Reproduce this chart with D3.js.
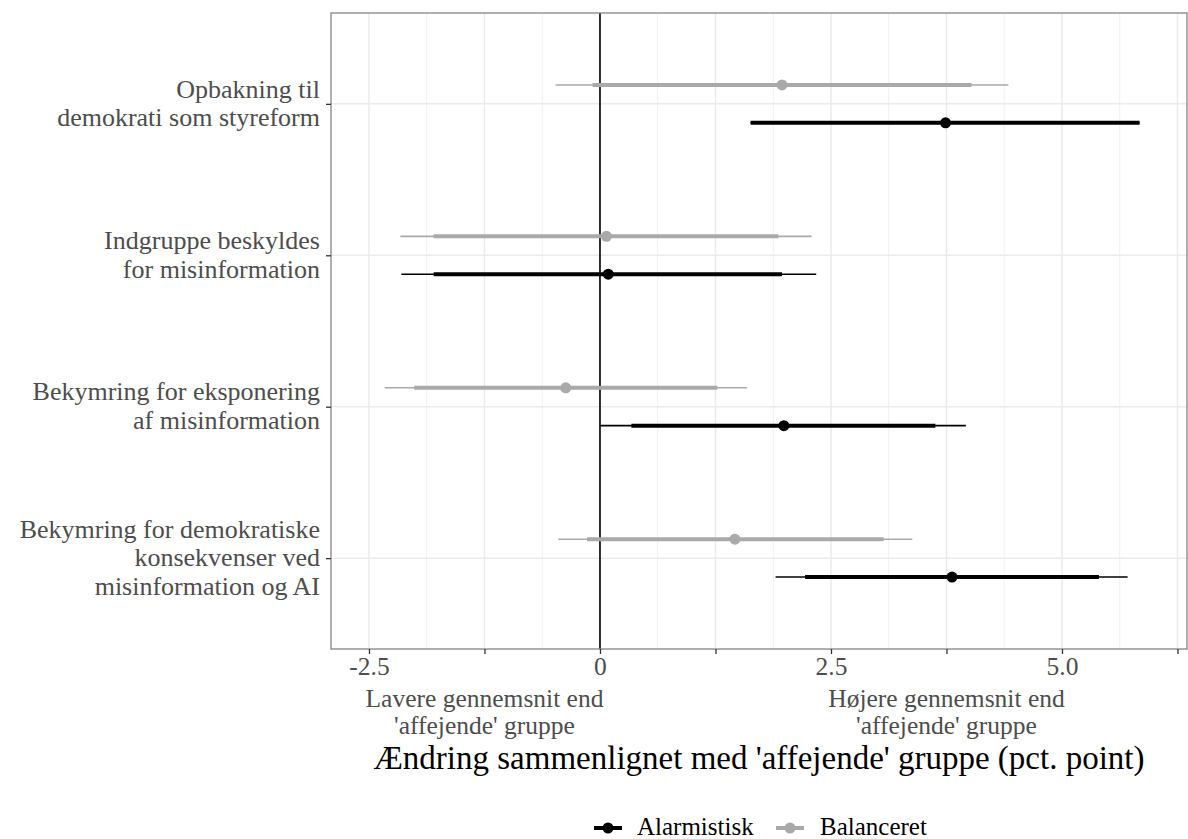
<!DOCTYPE html>
<html>
<head>
<meta charset="utf-8">
<script src="https://d3js.org/d3.v7.min.js"></script>
<style>
  body { margin: 0; background: #fff; }
  text { font-family: "Liberation Serif", "Times New Roman", serif; }
</style>
</head>
<body>
<script>
// categories, top to bottom
var categories = [
  ["Opbakning til", "demokrati som styreform"],
  ["Indgruppe beskyldes", "for misinformation"],
  ["Bekymring for eksponering", "af misinformation"],
  ["Bekymring for demokratiske", "konsekvenser ved", "misinformation og AI"]
];
var series = ["Balanceret", "Alarmistisk"];
var seriesColors = ["#a9a9a9", "#000000"];

// estimates and intervals, one value per category
var balEst = [1.97, 0.07, -0.37, 1.46];
var balLo95 = [-0.48, -2.16, -2.33, -0.45];
var balHi95 = [4.42, 2.29, 1.59, 3.38];
var balLo90 = [-0.08, -1.80, -2.01, -0.14];
var balHi90 = [4.02, 1.93, 1.27, 3.07];

var alaEst = [3.74, 0.09, 1.99, 3.81];
var alaLo95 = [1.63, -2.15, 0.00, 1.90];
var alaHi95 = [5.84, 2.34, 3.96, 5.71];
var alaLo90 = [1.63, -1.80, 0.34, 2.22];
var alaHi90 = [5.84, 1.97, 3.63, 5.40];

var tickValues = [-2.5, -1.25, 0, 1.25, 2.5, 3.75, 5, 6.25];
var tickLabels = ["-2.5", "", "0", "", "2.5", "", "5.0", ""];
var noteTicks = [-1.25, 3.75];
var noteLabels = [
  ["Lavere gennemsnit end", "'affejende' gruppe"],
  ["Højere gennemsnit end", "'affejende' gruppe"]
];

var rows = [];
categories.forEach(function(c, i) {
  rows.push({cat: i, s: 0, est: balEst[i], lo95: balLo95[i], hi95: balHi95[i], lo90: balLo90[i], hi90: balHi90[i]});
  rows.push({cat: i, s: 1, est: alaEst[i], lo95: alaLo95[i], hi95: alaHi95[i], lo90: alaLo90[i], hi90: alaHi90[i]});
});

var width = 1188, height = 839;
var pLeft = 331, pRight = 1187, pTop = 13, pBottom = 649;

var svg = d3.select("body").append("svg")
  .attr("width", width).attr("height", height);

var x = d3.scaleLinear().domain([-2.911, 6.353]).range([pLeft, pRight]);
var y = d3.scalePoint().domain(d3.range(categories.length)).range([pTop, pBottom]).padding(0.6);
var dodge = y.step() * 0.125;
function yy(d) { return y(d.cat) + (d.s === 0 ? -dodge : dodge); }

// grid
var minor = d3.range(-2.5, 6.4, 0.625).filter(function(v) { return tickValues.indexOf(v) < 0; });
svg.append("g").selectAll("line").data(minor).enter().append("line")
  .attr("x1", x).attr("x2", x).attr("y1", pTop).attr("y2", pBottom)
  .attr("stroke", "#f0f0f0").attr("stroke-width", 1);
svg.append("g").selectAll("line").data(tickValues).enter().append("line")
  .attr("x1", x).attr("x2", x).attr("y1", pTop).attr("y2", pBottom)
  .attr("stroke", "#ebebeb").attr("stroke-width", 1.5);
svg.append("g").selectAll("line").data(d3.range(categories.length)).enter().append("line")
  .attr("x1", pLeft).attr("x2", pRight).attr("y1", y).attr("y2", y)
  .attr("stroke", "#ebebeb").attr("stroke-width", 1.5);

// zero line
svg.append("line")
  .attr("x1", x(0)).attr("x2", x(0)).attr("y1", pTop).attr("y2", pBottom)
  .attr("stroke", "#000").attr("stroke-width", 1.6);

// intervals
var g = svg.append("g");
g.selectAll(".thin").data(rows).enter().append("line")
  .attr("x1", function(d) { return x(d.lo95); })
  .attr("x2", function(d) { return x(d.hi95); })
  .attr("y1", yy).attr("y2", yy)
  .attr("stroke", function(d) { return seriesColors[d.s]; })
  .attr("stroke-width", 1.6);
g.selectAll(".thick").data(rows).enter().append("line")
  .attr("x1", function(d) { return x(d.lo90); })
  .attr("x2", function(d) { return x(d.hi90); })
  .attr("y1", yy).attr("y2", yy)
  .attr("stroke", function(d) { return seriesColors[d.s]; })
  .attr("stroke-width", 4);
g.selectAll("circle").data(rows).enter().append("circle")
  .attr("cx", function(d) { return x(d.est); })
  .attr("cy", yy).attr("r", 5.5)
  .attr("fill", function(d) { return seriesColors[d.s]; });

// panel border
svg.append("rect")
  .attr("x", pLeft).attr("y", pTop).attr("width", pRight - pLeft).attr("height", pBottom - pTop)
  .attr("fill", "none").attr("stroke", "#858585").attr("stroke-width", 1.3);

// x axis
var xAxis = d3.axisBottom(x).tickValues(tickValues)
  .tickFormat(function(d, i) { return tickLabels[i]; })
  .tickSize(5).tickPadding(3);
var ax = svg.append("g").attr("transform", "translate(0," + pBottom + ")").call(xAxis);
ax.select(".domain").remove();
ax.selectAll(".tick line").attr("stroke", "#333").attr("stroke-width", 1.3);
ax.selectAll(".tick text").attr("fill", "#4d4d4d").attr("font-size", 25.5)
  .attr("font-family", "Liberation Serif, serif");

noteTicks.forEach(function(v, i) {
  var t = svg.append("text").attr("x", x(v)).attr("y", 707)
    .attr("text-anchor", "middle").attr("fill", "#4d4d4d").attr("font-size", 25.5);
  noteLabels[i].forEach(function(line, j) {
    t.append("tspan").attr("x", x(v)).attr("dy", j === 0 ? 0 : 27).text(line);
  });
});

svg.append("text")
  .attr("x", (pLeft + pRight) / 2).attr("y", 769)
  .attr("text-anchor", "middle").attr("fill", "#000").attr("font-size", 33)
  .text("Ændring sammenlignet med 'affejende' gruppe (pct. point)");

// y axis
var yAxis = d3.axisLeft(y).tickSize(5).tickFormat("");
var ay = svg.append("g").attr("transform", "translate(" + pLeft + ",0)").call(yAxis);
ay.select(".domain").remove();
ay.selectAll(".tick line").attr("stroke", "#333").attr("stroke-width", 1.3);

categories.forEach(function(lines, i) {
  var lh = 28.5;
  var y0 = y(i) - (lines.length - 1) * lh / 2 + 8;
  var t = svg.append("text").attr("text-anchor", "end")
    .attr("fill", "#4d4d4d").attr("font-size", 26);
  lines.forEach(function(line, j) {
    t.append("tspan").attr("x", 320).attr("y", y0 + j * lh).text(line);
  });
});

// legend
var legendItems = [
  {name: "Alarmistisk", color: seriesColors[1], kx: 594, tx: 637},
  {name: "Balanceret", color: seriesColors[0], kx: 776, tx: 820}
];
var lg = svg.append("g");
legendItems.forEach(function(d) {
  lg.append("line").attr("x1", d.kx).attr("x2", d.kx + 28)
    .attr("y1", 828).attr("y2", 828)
    .attr("stroke", d.color).attr("stroke-width", 4);
  lg.append("circle").attr("cx", d.kx + 14).attr("cy", 828).attr("r", 5.5).attr("fill", d.color);
  lg.append("text").attr("x", d.tx).attr("y", 835)
    .attr("fill", "#000").attr("font-size", 25).text(d.name);
});
</script>
</body>
</html>
